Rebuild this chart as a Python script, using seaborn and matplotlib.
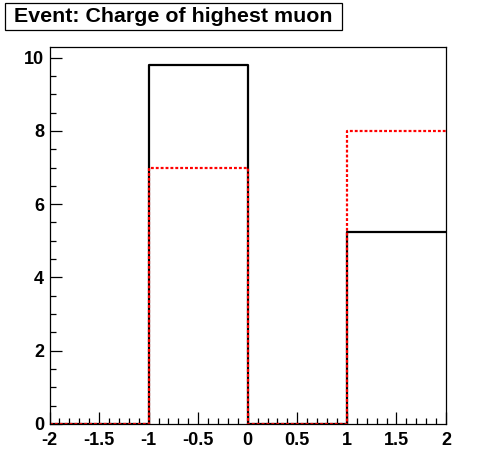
import numpy as np
import seaborn as sns
import matplotlib.pyplot as plt
from matplotlib.patches import Rectangle
from matplotlib.ticker import MultipleLocator

# histogram bins (charge of highest muon)
bin_edges = [-2, -1, 0, 1, 2]
bin_centers = [-1.5, -0.5, 0.5, 1.5]
black_counts = [0, 9.8, 0, 5.25]
red_counts = [0, 7.0, 0, 8.0]
title = 'Event: Charge of highest muon'

sns.set_style('white')
plt.rcParams['font.family'] = ['Liberation Sans', 'DejaVu Sans']
plt.rcParams['font.weight'] = 'bold'
plt.rcParams['text.color'] = 'black'

fig = plt.figure(figsize=(4.96, 4.72), dpi=100, facecolor='w')
ax = fig.add_axes([49.5 / 496, 1 - 424 / 472, (446 - 49.5) / 496, (424 - 47) / 472])

sns.histplot(x=bin_centers, weights=black_counts, bins=bin_edges, element='step',
             fill=False, color='black', linewidth=1.6, ax=ax)
sns.histplot(x=bin_centers, weights=red_counts, bins=bin_edges, element='step',
             fill=False, color='red', linewidth=1.6, linestyle=(0, (1.3, 0.9)), ax=ax)

ax.set_xlim(-2, 2)
ax.set_ylim(0, 10.29)
ax.set_xlabel('')
ax.set_ylabel('')
ax.xaxis.set_major_locator(MultipleLocator(0.5))
ax.xaxis.set_minor_locator(MultipleLocator(0.1))
ax.yaxis.set_major_locator(MultipleLocator(2))
ax.yaxis.set_minor_locator(MultipleLocator(0.5))
ax.set_xticklabels([f'{v:g}' for v in ax.get_xticks()])
ax.tick_params(which='both', direction='in', bottom=True, left=True, top=False, right=False,
               width=0.9, labelsize=13, colors='black')
ax.tick_params(which='major', length=8.5)
ax.tick_params(which='minor', length=4.3)
ax.tick_params(axis='x', pad=5.5)
ax.tick_params(axis='y', pad=4)
for s in ax.spines.values():
    s.set_visible(True)
    s.set_color('black')
    s.set_linewidth(0.9)

# ROOT-style title box
fig.patches.append(Rectangle((5 / 496, 1 - 30 / 472), 337 / 496, 27 / 472,
                             transform=fig.transFigure, facecolor='white',
                             edgecolor='black', linewidth=0.9))
fig.text(173 / 496, 1 - 17 / 472, title, ha='center', va='center',
         fontsize=15.4, fontweight='bold', color='black')

fig.savefig('out.png', dpi=100)
